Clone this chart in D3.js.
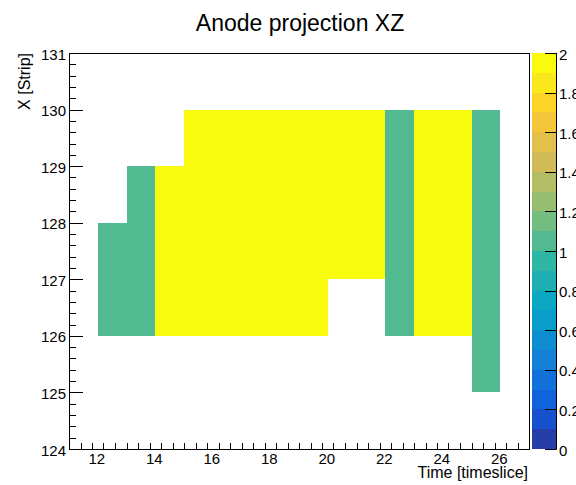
<!DOCTYPE html>
<html>
<head>
<meta charset="utf-8">
<script src="https://cdn.jsdelivr.net/npm/d3@7"></script>
<style>
  html, body { margin: 0; padding: 0; background: #fff; }
  svg { display: block; font-family: "Liberation Sans", Arial, Helvetica, sans-serif; }
</style>
</head>
<body>
<svg id="chart" width="576" height="485"></svg>
<script>
// Time slice bins (lower edge) and strip bins (lower edge)
const timeBins = [12, 13, 14, 15, 16, 17, 18, 19, 20, 21, 22, 23, 24, 25];
const stripBins = [125, 126, 127, 128, 129];
// Hit counts: one row per strip, one column per time slice
const counts = [
  [0, 0, 0, 0, 0, 0, 0, 0, 0, 0, 0, 0, 0, 1], // 125
  [1, 1, 2, 2, 2, 2, 2, 2, 0, 0, 1, 2, 2, 1], // 126
  [1, 1, 2, 2, 2, 2, 2, 2, 2, 2, 1, 2, 2, 1], // 127
  [0, 1, 2, 2, 2, 2, 2, 2, 2, 2, 1, 2, 2, 1], // 128
  [0, 0, 0, 2, 2, 2, 2, 2, 2, 2, 1, 2, 2, 1]  // 129
];
const xTicks = [12, 14, 16, 18, 20, 22, 24, 26];
const yTicks = [124, 125, 126, 127, 128, 129, 130, 131];
const zTicks = [0, 0.2, 0.4, 0.6, 0.8, 1, 1.2, 1.4, 1.6, 1.8, 2];

const titleText = "Anode projection XZ";
const xTitle = "Time [timeslice]";
const yTitle = "X [Strip]";

// Frame geometry
const frame = { left: 69, right: 529, top: 53, bottom: 449 };
const bar = { left: 532, right: 556 };

const svg = d3.select("#chart");

const x = d3.scaleLinear().domain([11, 27]).range([frame.left, frame.right]);
const y = d3.scaleLinear().domain([124, 131]).range([frame.bottom, frame.top]);
const z = d3.scaleLinear().domain([0, 2]).range([frame.bottom, frame.top]);

// Bird palette (255 colours interpolated between stops)
const stops = [0.0, 0.125, 0.25, 0.375, 0.5, 0.625, 0.75, 0.875, 1.0];
const red   = [0.2082, 0.0592, 0.0780, 0.0232, 0.1802, 0.5301, 0.8186, 0.9956, 0.9764];
const green = [0.1664, 0.3599, 0.5041, 0.6419, 0.7178, 0.7492, 0.7328, 0.7862, 0.9832];
const blue  = [0.5293, 0.8684, 0.8385, 0.7914, 0.6425, 0.4662, 0.3499, 0.1968, 0.0539];
const nColors = 255;
const palette = d3.range(nColors).map(i => {
  const t = i / (nColors - 1);
  let k = 0;
  while (k < stops.length - 2 && t > stops[k + 1]) k++;
  const f = (t - stops[k]) / (stops[k + 1] - stops[k]);
  const c = arr => Math.round(255 * (arr[k] + f * (arr[k + 1] - arr[k])));
  return d3.rgb(c(red), c(green), c(blue)).formatHex();
});
const nLevels = 20;
const zMin = 0, zMax = 2;
const levelColor = lvl => palette[Math.min(nColors - 1, Math.floor((lvl + 0.99) * nColors / nLevels))];
const valueColor = v => {
  let lvl = Math.floor((v - zMin) / (zMax - zMin) * nLevels);
  lvl = Math.max(0, Math.min(nLevels - 1, lvl));
  return levelColor(lvl);
};

// Cells
const cells = [];
stripBins.forEach((s, j) => {
  timeBins.forEach((t, i) => {
    const v = counts[j][i];
    if (v > 0) cells.push({ t, s, v });
  });
});

svg.append("g")
  .selectAll("rect")
  .data(cells)
  .join("rect")
  .attr("x", d => x(d.t))
  .attr("y", d => y(d.s + 1))
  .attr("width", d => x(d.t + 1) - x(d.t))
  .attr("height", d => y(d.s) - y(d.s + 1))
  .attr("fill", d => valueColor(d.v))
  .attr("shape-rendering", "crispEdges");

// Frame
svg.append("rect")
  .attr("x", frame.left + 0.5).attr("y", frame.top + 0.5)
  .attr("width", frame.right - frame.left).attr("height", frame.bottom - frame.top)
  .attr("fill", "none").attr("stroke", "#000").attr("stroke-width", 1);

// Axis ticks
const tickG = svg.append("g").attr("stroke", "#000").attr("stroke-width", 1);
const xMinor = d3.range(11, 27.0001, 0.4).map(v => +v.toFixed(2));
const yMinor = d3.range(124, 131.0001, 0.2).map(v => +v.toFixed(2));
const majorLenX = 12, majorLenY = 14;

tickG.selectAll(".xt").data(xMinor).join("line")
  .attr("x1", d => Math.round(x(d)) + 0.5).attr("x2", d => Math.round(x(d)) + 0.5)
  .attr("y1", frame.bottom)
  .attr("y2", d => frame.bottom - (xTicks.some(t => Math.abs(t - d) < 1e-6) ? majorLenX : majorLenX / 2));

tickG.selectAll(".yt").data(yMinor).join("line")
  .attr("y1", d => Math.round(y(d)) + 0.5).attr("y2", d => Math.round(y(d)) + 0.5)
  .attr("x1", frame.left)
  .attr("x2", d => frame.left + (yTicks.some(t => Math.abs(t - d) < 1e-6) ? majorLenY : majorLenY / 2));

// Tick labels
svg.append("g").selectAll("text").data(xTicks).join("text")
  .attr("x", d => x(d) - 1).attr("y", 464)
  .attr("text-anchor", "middle").attr("font-size", 15).attr("fill", "#000")
  .text(d => d);

svg.append("g").selectAll("text").data(yTicks).join("text")
  .attr("x", 66).attr("y", d => y(d) + 1)
  .attr("text-anchor", "end").attr("dominant-baseline", "central")
  .attr("font-size", 15).attr("fill", "#000")
  .text(d => d);

// Axis titles
svg.append("text")
  .attr("x", frame.right - 1).attr("y", 478)
  .attr("text-anchor", "end").attr("font-size", 16).attr("fill", "#000")
  .text(xTitle);

svg.append("text")
  .attr("transform", `translate(30,${frame.top}) rotate(-90)`)
  .attr("text-anchor", "end").attr("font-size", 16).attr("fill", "#000")
  .text(yTitle);

// Title
svg.append("text")
  .attr("x", 300).attr("y", 31)
  .attr("text-anchor", "middle").attr("font-size", 23).attr("fill", "#000")
  .text(titleText);

// Colour bar
const levels = d3.range(nLevels);
const step = (zMax - zMin) / nLevels;
svg.append("g").selectAll("rect").data(levels).join("rect")
  .attr("x", bar.left)
  .attr("width", bar.right - bar.left)
  .attr("y", d => z(zMin + (d + 1) * step))
  .attr("height", d => z(zMin + d * step) - z(zMin + (d + 1) * step))
  .attr("fill", d => levelColor(d))
  .attr("shape-rendering", "crispEdges");

svg.append("line")
  .attr("x1", bar.right + 0.5).attr("x2", bar.right + 0.5)
  .attr("y1", frame.top).attr("y2", frame.bottom + 0.5)
  .attr("stroke", "#000");

svg.append("g").attr("stroke", "#000").selectAll("line").data(zTicks).join("line")
  .attr("x1", bar.right - 11).attr("x2", bar.right + 0.5)
  .attr("y1", d => Math.round(z(d)) + 0.5).attr("y2", d => Math.round(z(d)) + 0.5);

svg.append("g").selectAll("text").data(zTicks).join("text")
  .attr("x", 559).attr("y", d => z(d) + 1)
  .attr("dominant-baseline", "central")
  .attr("font-size", 15).attr("fill", "#000")
  .text(d => d);
</script>
</body>
</html>
